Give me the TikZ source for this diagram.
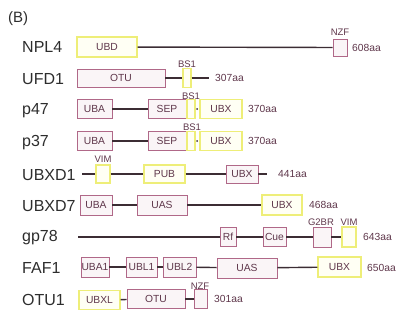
\documentclass[tikz,border=0pt]{standalone}
\usepackage{fontspec}
\setmainfont{Liberation Sans}
\definecolor{pk}{RGB}{176,104,136}
\definecolor{pkf}{RGB}{250,245,247}
\definecolor{yl}{RGB}{238,238,120}
\definecolor{ylf}{RGB}{255,255,244}
\definecolor{ln}{RGB}{60,45,52}
\definecolor{bt}{RGB}{95,55,75}
\definecolor{nm}{RGB}{45,45,45}
\begin{document}
\begin{tikzpicture}[x=1pt,y=-1pt,
  pbox/.style={draw=pk,fill=pkf,line width=0.9pt,inner sep=0pt,font=\fontsize{10.3}{11}\selectfont,text=bt},
  ybox/.style={draw=yl,fill=ylf,line width=1.3pt,inner sep=0pt,font=\fontsize{10.3}{11}\selectfont,text=bt},
  nm/.style={anchor=west,inner sep=0pt,font=\fontsize{16}{18}\selectfont,text=nm},
  aa/.style={anchor=west,inner sep=0pt,font=\fontsize{10.3}{11}\selectfont,text=bt},
  lab/.style={inner sep=0pt,font=\fontsize{9.5}{10}\selectfont,text=bt},
  bb/.style={line width=1.4pt,draw=ln},
  dotn/.style={circle,fill=ln,inner sep=0pt,minimum size=2pt}]
\useasboundingbox (0,0) rectangle (404,324);
\node[anchor=west,inner sep=0pt,font=\fontsize{15}{16}\selectfont,text=nm] (B) at (8,19) {(B)};
% NPL4
\node[nm] (n1) at (22,47) {NPL4};
\node[ybox,minimum width=60,minimum height=20] (npl4a) at (107,47) {UBD};
\node[pbox,minimum width=14,minimum height=17] (npl4b) at (340,47.5) {};
\node[lab] (npl4bl) at (340,32) {NZF};
\node[aa] (npl4aa) at (352,47.5) {608aa};
\draw[bb] (npl4a) -- (npl4b);
% UFD1
\node[nm] (n2) at (22,79) {UFD1};
\node[pbox,minimum width=88,minimum height=18] (ufda) at (121,78) {OTU};
\node[ybox,minimum width=8,minimum height=19] (ufdb) at (187,78) {};
\node[lab] (ufdbl) at (187,64) {BS1};
\coordinate (ufde) at (209,78);
\node[aa] (ufdaa) at (215,78) {307aa};
\draw[bb] (ufda) -- (ufdb);
\draw[bb] (ufdb) -- (ufde);
% p47
\node[nm] (n3) at (22,111) {p47};
\node[pbox,minimum width=35,minimum height=19] (p47a) at (94.5,109) {UBA};
\node[pbox,minimum width=38,minimum height=19] (p47b) at (167,109) {SEP};
\node[ybox,minimum width=8,minimum height=19] (p47c) at (191,109) {};
\node[dotn] (p47d) at (197,109) {};
\node[ybox,minimum width=42,minimum height=19] (p47e) at (221,109) {UBX};
\node[lab] (p47cl) at (191,96) {BS1};
\node[aa] (p47aa) at (248,109) {370aa};
\draw[bb] (p47a) -- (p47b);
% p37
\node[nm] (n4) at (22,143) {p37};
\node[pbox,minimum width=35,minimum height=19] (p37a) at (94.5,141) {UBA};
\node[pbox,minimum width=38,minimum height=19] (p37b) at (167,141) {SEP};
\node[ybox,minimum width=8,minimum height=19] (p37c) at (191,141) {};
\node[dotn] (p37d) at (197,141) {};
\node[ybox,minimum width=42,minimum height=19] (p37e) at (221,141) {UBX};
\node[lab] (p37cl) at (192,127) {BS1};
\node[aa] (p37aa) at (248,141) {370aa};
\draw[bb] (p37a) -- (p37b);
% UBXD1
\node[nm] (n5) at (22,175) {UBXD1};
\coordinate (u1s) at (82,174);
\node[ybox,minimum width=14,minimum height=18] (u1a) at (103,174) {};
\node[lab] (u1al) at (103,159) {VIM};
\node[ybox,minimum width=41,minimum height=18] (u1b) at (164.5,174) {PUB};
\node[pbox,minimum width=32,minimum height=18] (u1c) at (242,174) {UBX};
\coordinate (u1e) at (267,174);
\node[aa] (u1aa) at (278,174) {441aa};
\draw[bb] (u1s) -- (u1a);
\draw[bb] (u1a) -- (u1b);
\draw[bb] (u1b) -- (u1c);
\draw[bb] (u1c) -- (u1e);
% UBXD7
\node[nm] (n6) at (22,206) {UBXD7};
\node[pbox,minimum width=32,minimum height=20] (u7a) at (96,205) {UBA};
\node[pbox,minimum width=50,minimum height=20] (u7b) at (162,205) {UAS};
\node[ybox,minimum width=40,minimum height=20] (u7c) at (282,205) {UBX};
\node[aa] (u7aa) at (309,205) {468aa};
\draw[bb] (u7a) -- (u7b);
\draw[bb] (u7b) -- (u7c);
% gp78
\node[nm] (n7) at (22,238) {gp78};
\coordinate (gs) at (78,237);
\node[pbox,minimum width=16,minimum height=19] (ga) at (228,237) {Rf};
\node[pbox,minimum width=23,minimum height=19] (gb) at (274.5,237) {Cue};
\node[pbox,minimum width=18,minimum height=20] (gc) at (322,237) {};
\node[ybox,minimum width=14,minimum height=20] (gd) at (349,237) {};
\node[lab] (gcl) at (321,222) {G2BR};
\node[lab] (gdl) at (349,222) {VIM};
\node[aa] (gaa) at (363,237) {643aa};
\draw[bb] (gs) -- (ga);
\draw[bb] (ga) -- (gb);
\draw[bb] (gb) -- (gc);
\draw[bb] (gc) -- (gd);
% FAF1
\node[nm] (n8) at (22,268) {FAF1};
\node[pbox,minimum width=28,minimum height=20] (fa) at (95,267) {UBA1};
\node[pbox,minimum width=31,minimum height=20] (fb) at (141.5,267) {UBL1};
\node[pbox,minimum width=33,minimum height=20] (fc) at (179.5,267) {UBL2};
\node[pbox,minimum width=60,minimum height=20] (fd) at (247,268) {UAS};
\node[ybox,minimum width=43,minimum height=20] (fe) at (339.5,267) {UBX};
\node[aa] (faa) at (367,268) {650aa};
\draw[bb] (fa) -- (fb);
\draw[bb] (fb) -- (fc);
\draw[bb] (fc) -- (fd);
\draw[bb] (fd) -- (fe);
% OTU1
\node[nm] (n9) at (22,300) {OTU1};
\node[ybox,minimum width=41,minimum height=19] (oa) at (99.5,300) {UBXL};
\node[pbox,minimum width=58,minimum height=19] (ob) at (156,299) {OTU};
\node[pbox,minimum width=13,minimum height=19] (oc) at (200.5,299) {};
\node[lab] (ocl) at (200,286) {NZF};
\node[aa] (oaa) at (214,299) {301aa};
\draw[bb] (oa) -- (ob);
\draw[bb] (ob) -- (oc);
\end{tikzpicture}
\end{document}
